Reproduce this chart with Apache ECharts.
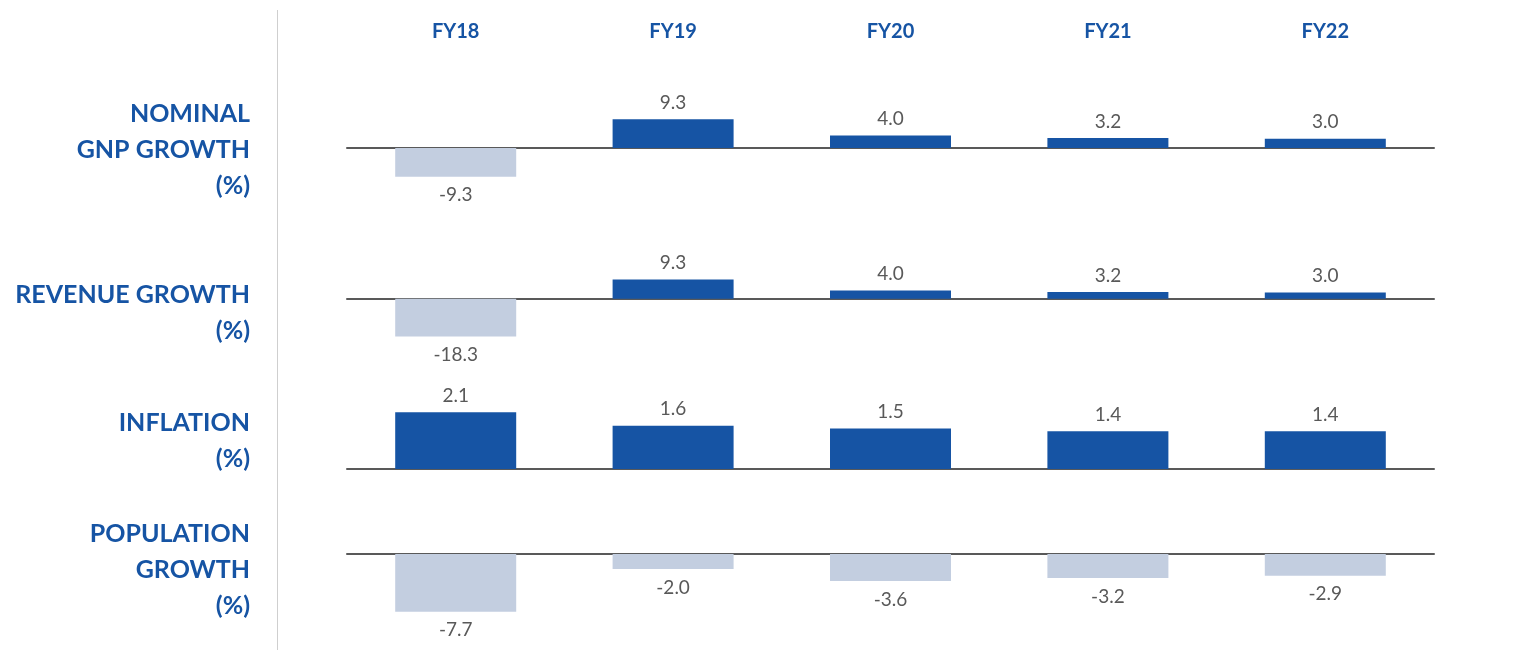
<!DOCTYPE html>
<html>
<head>
<meta charset="utf-8">
<script src="https://cdn.jsdelivr.net/npm/echarts@6/dist/echarts.min.js"></script>
<style>
  html, body { margin: 0; padding: 0; background: #fff; }
  #chart { width: 1514px; height: 650px; }
</style>
</head>
<body>
<div id="chart"></div>
<script>
// data
const years = ['FY18', 'FY19', 'FY20', 'FY21', 'FY22']
const rowLabels = ['NOMINAL\nGNP GROWTH\n(%)', 'REVENUE GROWTH\n(%)', 'INFLATION\n(%)', 'POPULATION\nGROWTH\n(%)']
const gnpGrowth = [-9.3, 9.3, 4.0, 3.2, 3.0]
const revenueGrowth = [-18.3, 9.3, 4.0, 3.2, 3.0]
const inflation = [2.1, 1.6, 1.5, 1.4, 1.4]
const populationGrowth = [-7.7, -2.0, -3.6, -3.2, -2.9]

const rows = [gnpGrowth, revenueGrowth, inflation, populationGrowth]

// layout for each panel (own scale per panel, like the original)
const panels = [
  { top: 117, height: 62, min: -10, max: 10, labelY: 150 },
  { top: 278, height: 62, min: -20, max: 10, labelY: 313 },
  { top: 401.5, height: 67.5, min: 0, max: 2.5, labelY: 441 },
  { top: 554, height: 60, min: -8, max: 0, labelY: 570 }
]

const BLUE = '#1654a4'
const LIGHT = '#c3cee0'
const TEXT = '#595959'
const FONT = 'Lato, "Open Sans", sans-serif'

const chart = echarts.init(document.getElementById('chart'))

const grid = panels.map(p => ({ left: 347, right: 80, top: p.top, height: p.height }))
grid.push({ left: 347, right: 80, top: 48, height: 1 })

const xAxis = panels.map((p, i) => ({
  type: 'category',
  gridIndex: i,
  data: years,
  axisLine: { show: true, onZero: true, lineStyle: { color: TEXT, width: 2 } },
  axisTick: { show: false },
  axisLabel: { show: false },
  splitLine: { show: false }
}))
xAxis.push({
  type: 'category',
  gridIndex: 4,
  position: 'top',
  data: years,
  axisLine: { show: false },
  axisTick: { show: false },
  axisLabel: { color: BLUE, fontWeight: 'bold', fontSize: 20, fontFamily: FONT, margin: 6 }
})

const yAxis = panels.map((p, i) => ({
  type: 'value',
  gridIndex: i,
  min: p.min,
  max: p.max,
  show: false
}))
yAxis.push({ type: 'value', gridIndex: 4, show: false })

const series = rows.map((vals, i) => ({
  type: 'bar',
  xAxisIndex: i,
  yAxisIndex: i,
  barWidth: 121,
  animation: false,
  data: vals.map(v => ({
    value: v,
    itemStyle: { color: v < 0 ? LIGHT : BLUE },
    label: { position: v < 0 ? 'bottom' : 'top', distance: v < 0 ? 9 : 7 }
  })),
  label: {
    show: true,
    color: TEXT,
    fontSize: 19,
    fontFamily: FONT,
    formatter: p => p.value.toFixed(1)
  }
}))

const graphic = [
  {
    type: 'line',
    shape: { x1: 277.5, y1: 10, x2: 277.5, y2: 650 },
    style: { stroke: '#cfcfcf', lineWidth: 1 }
  }
].concat(rowLabels.map((t, i) => ({
  type: 'text',
  x: 250,
  y: panels[i].labelY,
  style: {
    text: t,
    fill: BLUE,
    font: 'bold 25px ' + FONT,
    lineHeight: 36,
    textAlign: 'right',
    textVerticalAlign: 'middle'
  }
})))

chart.setOption({
  backgroundColor: '#fff',
  animation: false,
  grid,
  xAxis,
  yAxis,
  series,
  graphic
})
</script>
</body>
</html>
